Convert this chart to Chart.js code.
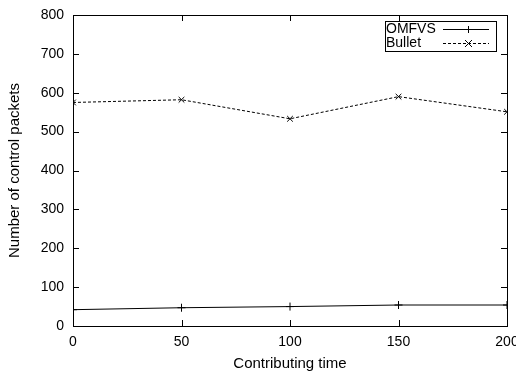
<!DOCTYPE html>
<html>
<head>
<meta charset="utf-8">
<script src="https://cdn.jsdelivr.net/npm/chart.js@4/dist/chart.umd.min.js"></script>
<style>
  html, body { margin: 0; padding: 0; background: #fff; }
  #wrap { width: 516px; height: 373px; }
</style>
</head>
<body>
<div id="wrap"><canvas id="chart" width="516" height="373"></canvas></div>
<script>
// data
var times = [0, 50, 100, 150, 200];
var omfvs = [42, 47, 50, 54, 54];
var bullet = [575, 582, 533, 590, 551];
var xTicks = [0, 50, 100, 150, 200];
var yTicks = [0, 100, 200, 300, 400, 500, 600, 700, 800];

var fontFam = '"Liberation Sans", Arial, Helvetica, sans-serif';

function toPoints(xs, ys) {
    var out = [];
    for (var i = 0; i < xs.length; i++) {
        out.push({x: xs[i], y: ys[i]});
    }
    return out;
}

// gnuplot style: frame, inward ticks on all four sides, boxed legend
var framePlugin = {
    id: 'frame',
    afterDraw: function(chart) {
        var c = chart.ctx;
        var a = chart.chartArea;
        var xs = chart.scales.x, ys = chart.scales.y;
        c.save();
        c.strokeStyle = '#000';
        c.lineWidth = 1;
        c.strokeRect(a.left + 0.5, a.top + 0.5, a.right - a.left, a.bottom - a.top);
        c.beginPath();
        xTicks.forEach(function(v) {
            var px = Math.round(xs.getPixelForValue(v)) + 0.5;
            c.moveTo(px, a.bottom); c.lineTo(px, a.bottom - 6);
            c.moveTo(px, a.top); c.lineTo(px, a.top + 6);
        });
        yTicks.forEach(function(v) {
            var py = Math.round(ys.getPixelForValue(v)) + 0.5;
            c.moveTo(a.left, py); c.lineTo(a.left + 6, py);
            c.moveTo(a.right, py); c.lineTo(a.right - 6, py);
        });
        c.stroke();

        // legend box
        var lx = 385, ly = 21, lw = 111, lh = 30;
        c.strokeRect(lx + 0.5, ly + 0.5, lw, lh);
        c.fillStyle = '#000';
        c.font = '14px ' + fontFam;
        c.textBaseline = 'middle';
        c.textAlign = 'left';
        c.fillText('OMFVS', lx + 1, ly + 8);
        c.fillText('Bullet', lx + 1, ly + 22);
        // samples
        c.beginPath();
        c.moveTo(443, ly + 8.5); c.lineTo(489, ly + 8.5);
        c.stroke();
        c.beginPath();
        c.moveTo(468.5, ly + 5); c.lineTo(468.5, ly + 12);
        c.stroke();
        c.setLineDash([3, 2]);
        c.beginPath();
        c.moveTo(443, ly + 22.5); c.lineTo(489, ly + 22.5);
        c.stroke();
        c.setLineDash([]);
        c.beginPath();
        c.moveTo(465, ly + 19); c.lineTo(472, ly + 26);
        c.moveTo(472, ly + 19); c.lineTo(465, ly + 26);
        c.stroke();
        c.restore();
    }
};

var ctx = document.getElementById('chart').getContext('2d');
var chart = new Chart(ctx, {
    type: 'line',
    data: {
        datasets: [{
            label: 'OMFVS',
            data: toPoints(times, omfvs),
            borderColor: '#000',
            borderWidth: 1,
            pointStyle: 'cross',
            pointRadius: 4,
            pointBorderWidth: 1,
            pointBorderColor: '#000',
            fill: false,
            tension: 0
        }, {
            label: 'Bullet',
            data: toPoints(times, bullet),
            borderColor: '#000',
            borderWidth: 1,
            borderDash: [3, 2],
            pointStyle: 'crossRot',
            pointRadius: 4,
            pointBorderWidth: 1,
            pointBorderColor: '#000',
            fill: false,
            tension: 0
        }]
    },
    options: {
        responsive: false,
        animation: false,
        layout: { padding: { top: 15, right: 9, left: 6, bottom: 0 } },
        plugins: {
            legend: { display: false },
            tooltip: { enabled: false }
        },
        scales: {
            x: {
                type: 'linear',
                min: 0, max: 200,
                afterBuildTicks: function(s) { s.ticks = xTicks.map(function(v) { return {value: v}; }); },
                afterFit: function(s) { s.height = 47; s.paddingLeft = 0; s.paddingRight = 0; },
                grid: { display: false, drawTicks: false },
                border: { display: false },
                ticks: { color: '#000', font: { family: fontFam, size: 14 }, padding: 8, maxRotation: 0 },
                title: { display: true, text: 'Contributing time', color: '#000', font: { family: fontFam, size: 15 }, padding: { top: 1, bottom: 0 } }
            },
            y: {
                type: 'linear',
                min: 0, max: 800,
                afterBuildTicks: function(s) { s.ticks = yTicks.map(function(v) { return {value: v}; }); },
                afterFit: function(s) { s.width = 67; s.paddingTop = 0; s.paddingBottom = 0; },
                grid: { display: false, drawTicks: false },
                border: { display: false },
                ticks: { color: '#000', font: { family: fontFam, size: 14 }, padding: 9 },
                title: { display: true, text: 'Number of control packets', color: '#000', font: { family: fontFam, size: 15 }, padding: { top: 0, bottom: 4 } }
            }
        }
    },
    plugins: [framePlugin]
});
</script>
</body>
</html>
